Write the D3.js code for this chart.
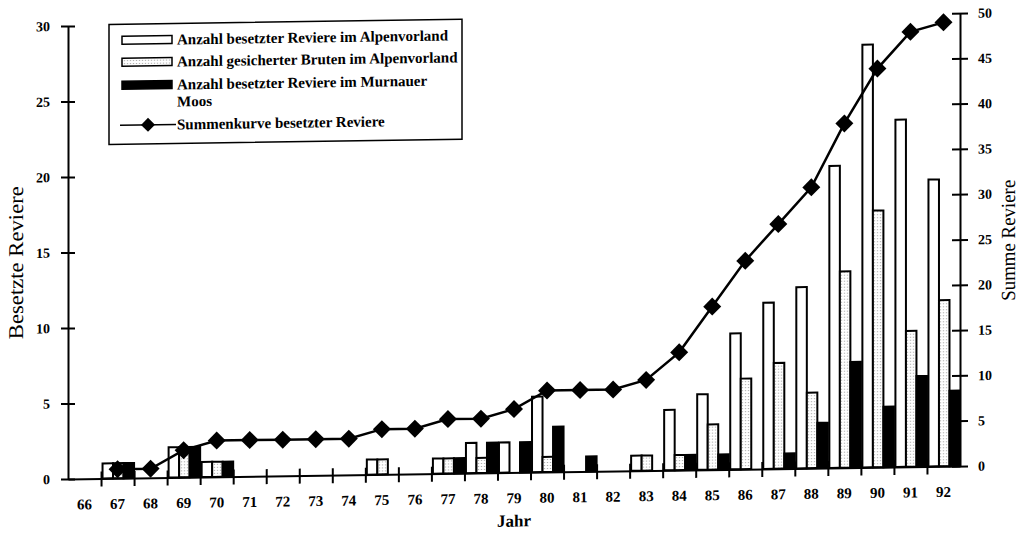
<!doctype html>
<html>
<head>
<meta charset="UTF-8">
<title>Besetzte Reviere</title>
<style>
body { margin: 0; background: #fff; }
svg text { font-family: "Liberation Serif", "DejaVu Serif", serif; fill: #000; }
</style>
</head>
<body>
<div id="chart"></div>
<script src="https://cdn.jsdelivr.net/npm/d3@7"></script>
<script>
// data
var years = ["66","67","68","69","70","71","72","73","74","75","76","77","78","79",
             "80","81","82","83","84","85","86","87","88","89","90","91","92"];
var besetztAlpen  = [0,1,0,2,1,0,0,0,0,1,0,1,2,2,5,0,0,1,4,5,9,11,12,20,28,23,19];
var brutenAlpen   = [0,1,0,2,1,0,0,0,0,1,0,1,1,0,1,0,0,1,1,3,6,7,5,13,17,9,11];
var besetztMurnau = [0,1,0,2,1,0,0,0,0,0,0,1,2,2,3,1,0,0,1,1,0,1,3,7,4,6,5];
var summe = [null,1,1,3,4,4,4,4,4,5,5,6,6,7,9,9,9,10,13,18,23,27,31,38,44,48,49];
var leftTicks = [0,5,10,15,20,25,30];
var rightTicks = [0,5,10,15,20,25,30,35,40,45,50];
var seriesNames = ["Anzahl besetzter Reviere im Alpenvorland",
                   "Anzahl gesicherter Bruten im Alpenvorland",
                   "Anzahl besetzter Reviere im Murnauer Moos",
                   "Summenkurve besetzter Reviere"];

var width = 1028, height = 538;
var xLeft = 68, xRight = 960, yTop = 26, yBase = 479;

var svg = d3.select("#chart").append("svg")
    .attr("width", width)
    .attr("height", height);

// dotted fill for the "Bruten" bars
var pat = svg.append("defs").append("pattern")
    .attr("id", "dots")
    .attr("patternUnits", "userSpaceOnUse")
    .attr("width", 3).attr("height", 3);
pat.append("rect").attr("width", 3).attr("height", 3).attr("fill", "#fff");
pat.append("rect").attr("x", 1).attr("y", 1).attr("width", 1).attr("height", 1).attr("fill", "#888");

// the scan is slightly tilted: the right end sits ~13px higher
var g = svg.append("g")
    .attr("transform", "translate(" + xLeft + ",0) skewY(-0.833) translate(" + (-xLeft) + ",0)");

var x = d3.scaleBand().domain(years).range([xLeft, xRight]);
var sub = d3.scaleBand().domain([0, 1, 2]).range([1.5, x.bandwidth()]);
var yL = d3.scaleLinear().domain([0, 30]).range([yBase, yTop]);
var yR = d3.scaleLinear().domain([0, 50]).range([yBase, yTop]);
// year borders, for the tick marks between the labels
var xEdge = d3.scaleLinear().domain([0, years.length]).range([xLeft, xRight]);

var fills = ["#fff", "url(#dots)", "#000"];
var series = [besetztAlpen, brutenAlpen, besetztMurnau];

// bars
series.forEach(function(vals, s) {
  var rows = years.map(function(y, i) { return {year: y, v: vals[i]}; })
    .filter(function(d) { return d.v > 0; });
  g.selectAll(".bar" + s)
    .data(rows)
    .join("rect")
      .attr("class", "bar" + s)
      .attr("x", function(d) { return x(d.year) + sub(s); })
      .attr("y", function(d) { return yL(d.v); })
      .attr("width", sub.bandwidth())
      .attr("height", function(d) { return yBase - yL(d.v); })
      .attr("fill", fills[s])
      .attr("stroke", "#000")
      .attr("stroke-width", 2);
});

// left axis
var axL = g.append("g")
    .attr("transform", "translate(" + xLeft + ",0)")
    .call(d3.axisLeft(yL).tickValues(leftTicks).tickSize(7).tickSizeOuter(0).tickPadding(11));
axL.selectAll(".tick line").attr("x2", 7).attr("x1", -7).attr("stroke-width", 2);
axL.select(".domain").attr("stroke-width", 2);
axL.selectAll("text").style("font-size", "14px").style("font-weight", "bold");

// right axis
var axR = g.append("g")
    .attr("transform", "translate(" + xRight + ",0)")
    .call(d3.axisRight(yR).tickValues(rightTicks).tickSize(8).tickSizeOuter(0).tickPadding(10));
axR.selectAll(".tick line").attr("x1", -8).attr("stroke-width", 2);
axR.select(".domain").attr("stroke-width", 2);
axR.selectAll("text").style("font-size", "14px").style("font-weight", "bold");

// bottom axis: labels in the middle of each year
var axB = g.append("g")
    .attr("transform", "translate(0," + yBase + ")")
    .call(d3.axisBottom(x).tickSize(0).tickSizeOuter(0).tickPadding(20));
axB.select(".domain").attr("stroke-width", 2);
axB.selectAll("text").style("font-size", "15px").style("font-weight", "bold");

// ...and tick marks on the year borders, crossing the axis line
var axT = g.append("g")
    .attr("transform", "translate(0," + yBase + ")")
    .call(d3.axisBottom(xEdge).tickValues(d3.range(1, years.length)).tickFormat("").tickSize(8).tickSizeOuter(0));
axT.select(".domain").remove();
axT.selectAll(".tick line").attr("y1", -7).attr("stroke", "#000").attr("stroke-width", 2);

// summenkurve
var pts = years.map(function(y, i) { return {year: y, v: summe[i]}; })
  .filter(function(d) { return d.v != null; });
var diamond = "M0,-9L9,0L0,9L-9,0Z";
g.append("path")
  .datum(pts)
  .attr("fill", "none")
  .attr("stroke", "#000")
  .attr("stroke-width", 2.5)
  .attr("d", d3.line()
    .x(function(d) { return x(d.year) + x.bandwidth() / 2; })
    .y(function(d) { return yR(d.v); }));
g.selectAll(".pt")
  .data(pts)
  .join("path")
    .attr("class", "pt")
    .attr("d", diamond)
    .attr("transform", function(d) { return "translate(" + (x(d.year) + x.bandwidth() / 2) + "," + yR(d.v) + ")"; })
    .attr("fill", "#000");

// axis titles
g.append("text")
  .attr("transform", "translate(23,262) rotate(-90)")
  .attr("text-anchor", "middle")
  .attr("textLength", 153).attr("lengthAdjust", "spacingAndGlyphs")
  .style("font-size", "21px")
  .text("Besetzte Reviere");
g.append("text")
  .attr("transform", "translate(1015,254) rotate(-90)")
  .attr("text-anchor", "middle")
  .attr("textLength", 121).attr("lengthAdjust", "spacingAndGlyphs")
  .style("font-size", "20px")
  .text("Summe Reviere");
g.append("text")
  .attr("x", 514).attr("y", 533)
  .attr("text-anchor", "middle")
  .style("font-size", "17px").style("font-weight", "bold")
  .text("Jahr");

// legend
var lg = g.append("g");
lg.append("rect")
  .attr("x", 109).attr("y", 25).attr("width", 353).attr("height", 120)
  .attr("fill", "#fff").attr("stroke", "#000").attr("stroke-width", 1.5);
var rowY = [41, 63, 86, 126];
[0, 1, 2].forEach(function(s) {
  lg.append("rect")
    .attr("x", 122).attr("y", rowY[s] - 4).attr("width", 50).attr("height", 8)
    .attr("fill", fills[s]).attr("stroke", "#000").attr("stroke-width", 1.5);
});
lg.append("line")
  .attr("x1", 120).attr("x2", 176).attr("y1", rowY[3]).attr("y2", rowY[3])
  .attr("stroke", "#000").attr("stroke-width", 1.5);
lg.append("path").attr("d", "M0,-7L7,0L0,7L-7,0Z").attr("transform", "translate(148," + rowY[3] + ")").attr("fill", "#000");

lg.append("text").attr("x", 177).attr("y", rowY[0] + 5).text(seriesNames[0]);
lg.append("text").attr("x", 177).attr("y", rowY[1] + 5).text(seriesNames[1]);
lg.append("text").attr("x", 177).attr("y", rowY[2] + 5).text("Anzahl besetzter Reviere im Murnauer");
lg.append("text").attr("x", 177).attr("y", rowY[2] + 22).text("Moos");
lg.append("text").attr("x", 177).attr("y", rowY[3] + 5).text(seriesNames[3]);
lg.selectAll("text").style("font-size", "15px").style("font-weight", "bold");
</script>
</body>
</html>
